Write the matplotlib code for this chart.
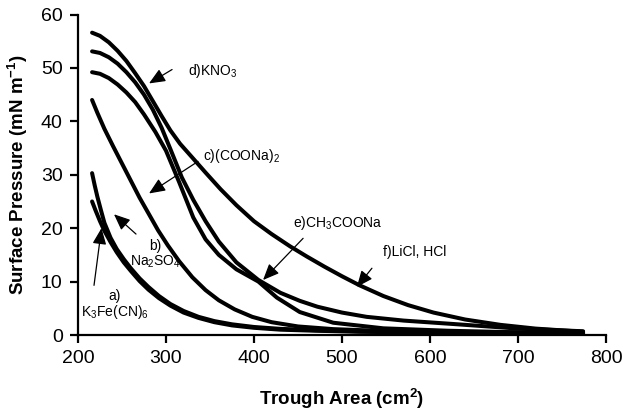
import matplotlib
matplotlib.use("Agg")
import matplotlib.pyplot as plt

plt.rcParams['font.family'] = ['Liberation Sans', 'DejaVu Sans']
plt.rcParams['mathtext.fontset'] = 'custom'
plt.rcParams['mathtext.rm'] = 'Liberation Sans'
plt.rcParams['mathtext.bf'] = 'Liberation Sans:bold'
plt.rcParams['mathtext.default'] = 'regular'

# isotherm data (area in cm2, pressure in mN/m)
a_area = [216, 220, 225, 230, 237, 244, 252, 260, 270, 280, 292, 305, 320, 337, 355, 375, 400, 430, 470, 520, 580, 650, 720, 774]
a_p = [25.0, 23.3, 21.3, 19.5, 17.4, 15.5, 13.6, 12.0, 10.1, 8.5, 6.9, 5.5, 4.2, 3.2, 2.4, 1.8, 1.35, 1.0, 0.8, 0.6, 0.5, 0.4, 0.35, 0.3]

b_area = [216, 219, 222, 226, 230, 237, 244, 252, 260, 270, 280, 292, 305, 320, 337, 355, 375, 400, 430, 470, 520, 580, 650, 720, 774]
b_p = [30.3, 28.0, 25.9, 23.4, 21.0, 18.2, 16.1, 14.2, 12.5, 10.6, 9.0, 7.3, 5.8, 4.5, 3.4, 2.6, 2.0, 1.5, 1.15, 0.9, 0.7, 0.55, 0.45, 0.4, 0.35]

c_area = [216, 222, 230, 240, 250, 260, 270, 280, 291, 302, 315, 330, 345, 360, 378, 398, 420, 450, 490, 540, 600, 680, 774]
c_p = [44.0, 41.6, 38.6, 35.3, 32.1, 28.9, 25.7, 22.8, 19.6, 16.8, 13.8, 10.8, 8.4, 6.5, 4.8, 3.4, 2.4, 1.6, 1.1, 0.8, 0.6, 0.5, 0.4]

d_area = [216, 225, 235, 245, 255, 265, 275, 285, 295, 305, 318, 331, 345, 360, 380, 405, 430, 452, 472, 500, 528, 570, 623, 700, 774]
d_p = [53.1, 52.8, 52.0, 50.8, 49.2, 47.3, 45.0, 42.2, 38.8, 34.8, 29.5, 25.3, 21.3, 17.5, 13.6, 10.3, 7.9, 6.4, 5.3, 4.2, 3.4, 2.7, 2.1, 1.2, 0.7]

e_area = [216, 225, 235, 245, 255, 265, 275, 288, 300, 315, 331, 345, 360, 380, 405, 426, 452, 490, 547, 620, 700, 774]
e_p = [49.2, 48.9, 48.1, 46.9, 45.4, 43.6, 41.3, 38.0, 34.5, 28.6, 22.0, 17.9, 15.0, 12.3, 10.0, 7.0, 4.3, 2.3, 1.25, 0.8, 0.5, 0.4]

f_area = [216, 225, 235, 245, 255, 265, 275, 285, 295, 305, 316, 330, 345, 362, 380, 400, 420, 441, 460, 480, 500, 520, 547, 575, 604, 640, 680, 720, 774]
f_p = [56.6, 56.0, 54.8, 53.2, 51.3, 49.0, 46.6, 43.8, 41.0, 38.3, 35.8, 33.2, 30.4, 27.3, 24.3, 21.3, 18.9, 16.6, 14.7, 12.8, 11.0, 9.3, 7.3, 5.6, 4.2, 2.9, 1.9, 1.2, 0.6]

fig = plt.figure(figsize=(6.23, 4.11), dpi=100)
ax = fig.add_axes([0.1252, 0.1849, 0.8475, 0.7798])

for xs, ys in [(a_area, a_p), (b_area, b_p), (c_area, c_p),
               (d_area, d_p), (e_area, e_p), (f_area, f_p)]:
    ax.plot(xs, ys, color='black', lw=2.9, solid_capstyle='round', solid_joinstyle='round')

ax.set_xlim(200, 800)
ax.set_ylim(0, 60)
ax.set_xticks(range(200, 801, 100))
ax.set_yticks(range(0, 61, 10))
for s in ['top', 'right']:
    ax.spines[s].set_visible(False)
for s in ['left', 'bottom']:
    ax.spines[s].set_linewidth(1.6)
ax.tick_params(direction='out', length=6, width=1.6, labelsize=14, pad=5)

ax.set_xlabel(r'Trough Area (cm$\mathbf{^2}$)', fontsize=13.5, fontweight='bold')
ax.set_ylabel(r'Surface Pressure (mN m$\mathbf{^{-1}}$)', fontsize=13.5, fontweight='bold')
ax.xaxis.set_label_coords(0.5, -0.163)
ax.yaxis.set_label_coords(-0.09, 0.5)

# labels with arrows
arr = dict(arrowstyle='-|>,head_length=0.7,head_width=0.3', color='black', lw=0.9,
           mutation_scale=14, shrinkA=0, shrinkB=0)
fs = 10
ax.annotate('', xy=(280.7, 47.1), xytext=(306.9, 49.7), arrowprops=arr)
ax.text(325, 49.5, 'd)KNO$_3$', fontsize=fs, ha='left', va='center')
ax.annotate('', xy=(280.7, 26.5), xytext=(336.4, 32.5), arrowprops=arr)
ax.text(342.1, 33.5, 'c)(COONa)$_2$', fontsize=fs, ha='left', va='center')
ax.annotate('', xy=(240.9, 22.6), xytext=(265.9, 18.9), arrowprops=arr)
ax.text(287.5, 15.0, 'b)\nNa$_2$SO$_4$', fontsize=fs, ha='center', va='center', linespacing=1.05)
ax.annotate('', xy=(226.7, 20.0), xytext=(218.2, 9.3), arrowprops=arr)
ax.text(242.1, 5.6, 'a)\nK$_3$Fe(CN)$_6$', fontsize=fs, ha='center', va='center', linespacing=1.05)
ax.annotate('', xy=(410.3, 10.3), xytext=(455.8, 18.1), arrowprops=arr)
ax.text(444.5, 20.9, 'e)CH$_3$COONa', fontsize=fs, ha='left', va='center')
ax.annotate('', xy=(516.9, 9.0), xytext=(534.0, 12.5), arrowprops=arr)
ax.text(546.8, 15.5, 'f)LiCl, HCl', fontsize=fs, ha='left', va='center')

fig.savefig('out.png', dpi=100)
